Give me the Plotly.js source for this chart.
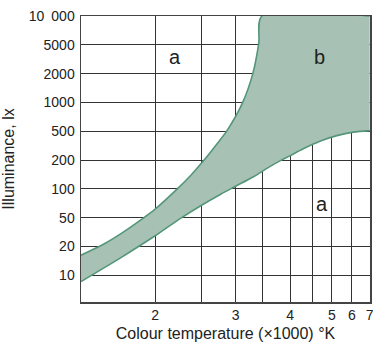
<!DOCTYPE html>
<html><head><meta charset="utf-8">
<script src="https://cdn.plot.ly/plotly-3.0.1.min.js"></script>
<style>html,body{margin:0;padding:0;background:#fff}#chart{width:373px;height:347px}</style>
</head><body><div id="chart"></div>
<script>
// Kruithof-style comfort region: colour temperature (×1000 K) vs illuminance (lx)
const upperTemp = [1.40, 1.57, 1.70, 1.87, 2.00, 2.23, 2.375, 2.535, 2.72, 2.87, 3.117, 3.312, 3.427, 3.49, 7.0];
const upperLux  = [16.2, 22,   30.3, 46.9, 61.4, 101,  139,   200,   339,  514,  977,   2000,  5180,  10000, 10000];
const lowerTemp = [1.40, 1.57, 1.70, 2.00, 2.26, 2.50, 2.77, 3.00, 3.325, 3.64, 3.85, 4.00, 4.29, 4.69, 5.23, 6.07, 7.0];
const lowerLux  = [8.6,  12.1, 15.4, 28.1, 48.9, 67.5, 88,   106.6, 134,  172.7, 202.6, 230, 287,  365,  435,  486,  508];

// Axis grids and labels
const xGridTemps  = [2, 2.5, 3, 3.5, 4, 4.5, 5, 6, 7];
const xGridScale  = [0, 46.7, 81, 108, 136, 158, 178, 198, 216]; // irregular scale of the original figure
const xTickLabels = ['2', '', '3', '', '4', '', '5', '6', '7'];
const yScaleValues = [5, 10, 20, 50, 100, 200, 500, 1000, 2000, 5000, 10000];
const yTickLabels  = ['', '10', '20', '50', '100', '200', '500', '1000', '2000', '5000', '10\u2002000'];
const regionLabels = ['a', 'b', 'a'];
const regionTemps  = [2.2, 4.69, 4.75];
const regionLux    = [3400, 3400, 69];

function xs(t) {
  const g = xGridTemps, p = xGridScale;
  if (t <= g[0]) return (p[1] - p[0]) / Math.log(g[1] / g[0]) * Math.log(t / g[0]);
  for (let i = 0; i < g.length - 1; i++) {
    if (t <= g[i + 1]) return p[i] + (p[i + 1] - p[i]) * Math.log(t / g[i]) / Math.log(g[i + 1] / g[i]);
  }
  return p[p.length - 1];
}
function ys(v) {
  const s = yScaleValues;
  for (let i = 0; i < s.length - 1; i++) {
    if (v <= s[i + 1]) return i + Math.log(v / s[i]) / Math.log(s[i + 1] / s[i]);
  }
  return s.length - 1;
}

const font = 'Liberation Sans, Arial, Helvetica, sans-serif';
const lineStyle = {color: 'rgb(84,150,122)', width: 1.6, shape: 'spline', smoothing: 0.8};
const lower = {
  x: lowerTemp.map(xs), y: lowerLux.map(ys), mode: 'lines',
  line: lineStyle, hoverinfo: 'skip', showlegend: false
};
const upper = {
  x: upperTemp.map(xs), y: upperLux.map(ys), mode: 'lines', fill: 'tonexty',
  fillcolor: 'rgb(167,194,180)',
  line: lineStyle, hoverinfo: 'skip', showlegend: false
};

const layout = {
  width: 373, height: 347,
  margin: {l: 81, r: 3, t: 16, b: 45},
  paper_bgcolor: '#fff', plot_bgcolor: '#fff',
  font: {family: font, size: 14, color: '#222'},
  xaxis: {
    range: [xs(1.4), xs(7) + 0.3],
    tickmode: 'array', tickvals: xGridTemps.map(xs), ticktext: xTickLabels,
    ticklabeloverflow: 'allow',
    showgrid: true, gridcolor: '#333', gridwidth: 1,
    zeroline: false, showline: true, linecolor: '#444', linewidth: 1.5, mirror: true,
    ticks: '', tickfont: {size: 14, color: '#222'},
    title: {text: 'Colour temperature (\u00d71000) \u00b0K', font: {size: 16, color: '#222'}, standoff: 5},
    fixedrange: true
  },
  yaxis: {
    range: [0.073, ys(10000)],
    tickmode: 'array', tickvals: yScaleValues.map(ys), ticktext: yTickLabels,
    ticklabeloverflow: 'allow',
    showgrid: true, gridcolor: '#333', gridwidth: 1,
    zeroline: false, showline: true, linecolor: '#444', linewidth: 1.5, mirror: true,
    ticks: '', ticklabelstandoff: 2, tickfont: {size: 14, color: '#222'},
    title: {text: 'Illuminance, lx', font: {size: 16, color: '#222'}, standoff: 11},
    fixedrange: true
  },
  annotations: regionLabels.map((t, i) => ({
    x: xs(regionTemps[i]), y: ys(regionLux[i]), text: t, showarrow: false,
    font: {family: font, size: 20, color: '#222'}
  }))
};

Plotly.newPlot('chart', [lower, upper], layout, {displayModeBar: false, staticPlot: true});
</script>
</body></html>
